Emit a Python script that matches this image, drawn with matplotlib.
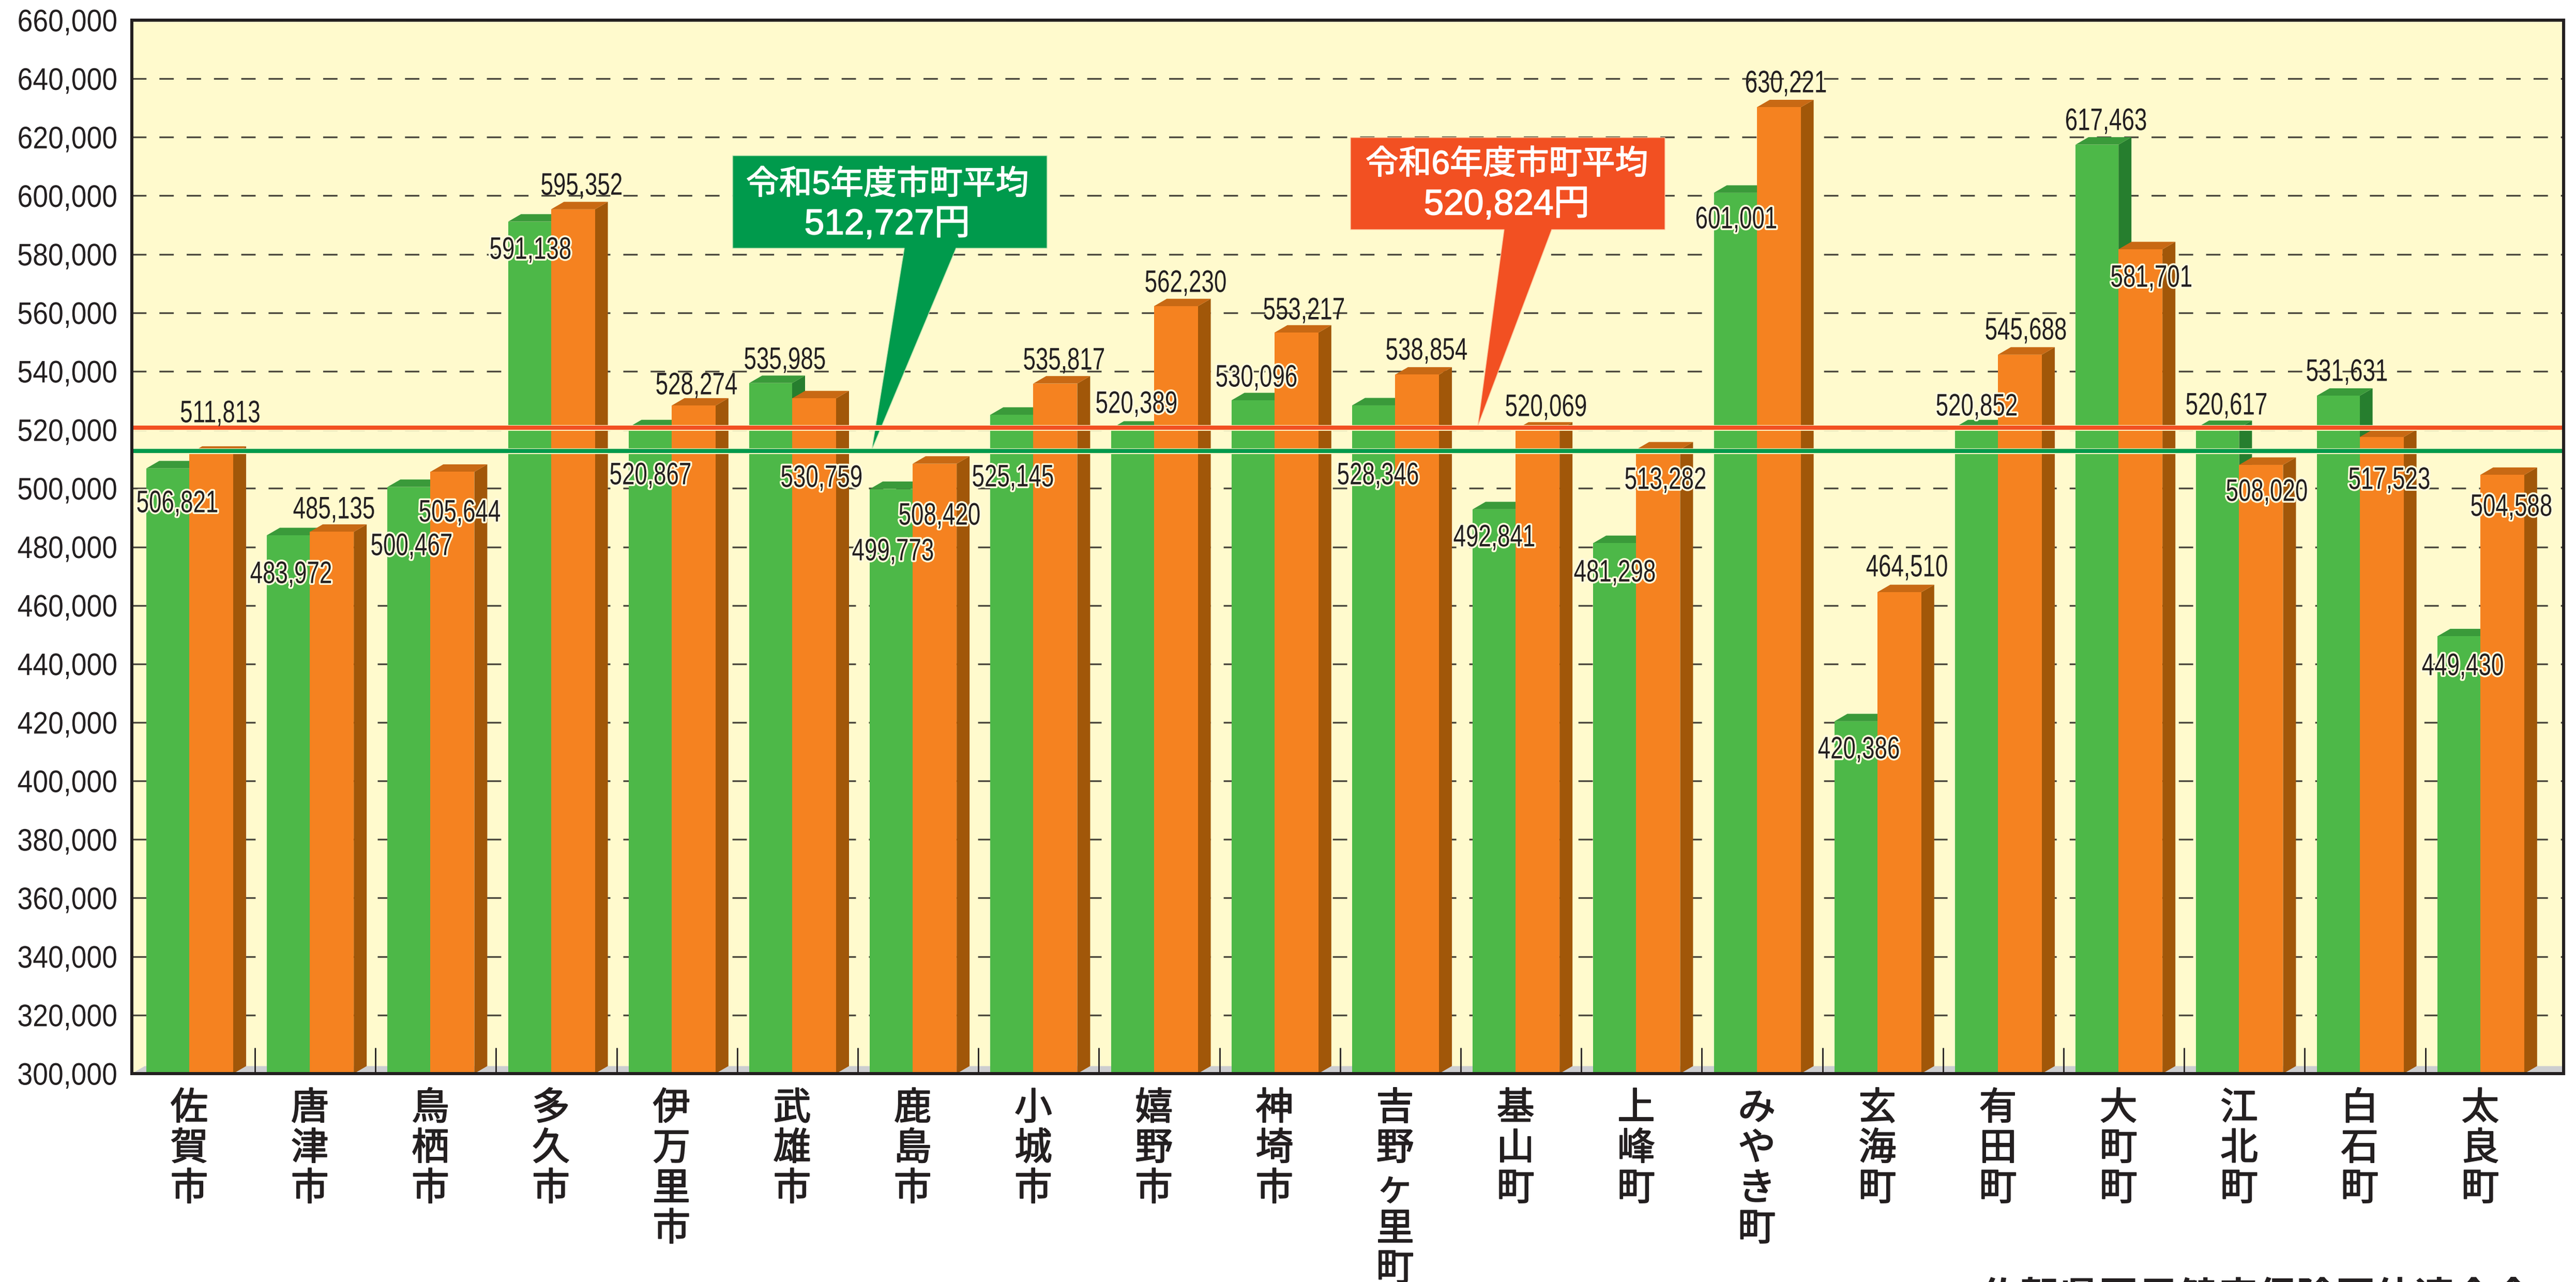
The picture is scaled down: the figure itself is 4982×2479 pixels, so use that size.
import numpy as np
import matplotlib
matplotlib.use("Agg")
import matplotlib.pyplot as plt
from matplotlib.patches import Polygon
from matplotlib.transforms import Affine2D
import matplotlib.patheffects as pe

plt.rcParams["lines.scale_dashes"] = False

# ---------- data ----------
categories = ["佐賀市", "唐津市", "鳥栖市", "多久市", "伊万里市", "武雄市", "鹿島市", "小城市", "嬉野市", "神埼市",
              "吉野ヶ里町", "基山町", "上峰町", "みやき町", "玄海町", "有田町", "大町町", "江北町", "白石町", "太良町"]
values_r5 = [506821, 483972, 500467, 591138, 520867, 535985, 499773, 525145, 520389, 530096,
             528346, 492841, 481298, 601001, 420386, 520852, 617463, 520617, 531631, 449430]
values_r6 = [511813, 485135, 505644, 595352, 528274, 530759, 508420, 535817, 562230, 553217,
             538854, 520069, 513282, 630221, 464510, 545688, 581701, 508020, 517523, 504588]
avg_r5 = 512727
avg_r6 = 520824
avg_r5_title = "令和5年度市町平均"
avg_r6_title = "令和6年度市町平均"
source_text = "佐賀県国民健康保険団体連合会"
y_ticks = list(range(300000, 660001, 20000))

# ---------- layout (pixels of the 4982x2479 canvas) ----------
W, H = 4982, 2479
L, R, T, B = 255, 4958, 39, 2076
PERIOD = 233.2
C0 = 366          # green/orange seam of the first group
G_W, O_W = 83, 85
DX, DY = 25, 14.5
TICK_RIGHT = 227

label_xy_r5 = [(343, 969), (563, 1106), (796, 1052), (1026, 479), (1258, 915), (1518, 692), (1727, 1062),
               (1959, 919), (2198, 777), (2430, 726), (2665, 915), (2890, 1035), (3123, 1103), (3358, 420),
               (3595, 1445), (3823, 782), (4073, 230), (4306, 780), (4539, 715), (4763, 1284)]
label_xy_r6 = [(426, 795), (646, 981), (889, 987), (1125, 355), (1347, 741), (1589, 920), (1817, 993),
               (2058, 693), (2293, 543), (2522, 596), (2759, 674), (2990, 783), (3221, 924), (3454, 157),
               (3688, 1093), (3918, 635), (4161, 533), (4384, 947), (4621, 924), (4857, 976)]
halo_r5 = [1, 1, 1, 1, 1, 0, 1, 1, 1, 1, 1, 1, 1, 1, 1, 1, 0, 0, 0, 1]
halo_r6 = [0, 0, 1, 0, 0, 1, 1, 0, 0, 0, 0, 0, 1, 0, 0, 0, 1, 1, 1, 1]

# ---------- colours ----------
WALL = "#FFFACD"
FLOOR = "#CDCED0"
GREEN, GREEN_TOP, GREEN_SIDE = "#4DB848", "#3A9A3A", "#267E2E"
ORANGE, ORANGE_TOP, ORANGE_SIDE = "#F58220", "#C86914", "#A15709"
LINE_G, LINE_O = "#009A4C", "#F25022"
INK = "#231F20"

SANS = ["Liberation Sans", "DejaVu Sans"]
MIXED = ["Liberation Sans", "Noto Sans CJK JP"]
CJK = ["Noto Sans CJK JP", "DejaVu Sans"]


class Condensed(pe.AbstractPathEffect):
    """Keeps the text real but narrows it about a canvas x, with an optional halo."""

    def __init__(self, cx, sx, halo=None, halo_lw=0):
        super().__init__()
        self.cx, self.sx, self.halo, self.halo_lw = cx, sx, halo, halo_lw

    def draw_path(self, renderer, gc, tpath, affine, rgbFace=None):
        aff = affine + Affine2D().translate(-self.cx, 0).scale(self.sx, 1).translate(self.cx, 0)
        if self.halo:
            g = renderer.new_gc()
            g.copy_properties(gc)
            g.set_foreground(self.halo)
            g.set_linewidth(self.halo_lw)
            g.set_joinstyle("round")
            renderer.draw_path(g, tpath, aff, matplotlib.colors.to_rgba(self.halo))
            g.restore()
        renderer.draw_path(gc, tpath, aff, rgbFace)


fig = plt.figure(figsize=(W / 100, H / 100), dpi=100, facecolor="white")
ax = fig.add_axes([L / W, 1 - B / H, (R - L) / W, (B - T) / H], facecolor=WALL)
pxT = Affine2D().scale(1 / W, -1 / H).translate(0, 1) + fig.transFigure

xlim = ((L - C0) / PERIOD, (R - C0) / PERIOD)
ax.set_xlim(*xlim)
ax.set_ylim(300000, 660000)
yen_per_px = 360000 / (B - T)
dx, dy = DX / PERIOD, DY * yen_per_px
gw, ow = G_W / PERIOD, O_W / PERIOD

x = np.arange(len(categories))

# floor
ax.add_patch(Polygon([(xlim[0], 300000), (xlim[0] + dx, 300000 + dy), (xlim[1], 300000 + dy), (xlim[1], 300000)],
                     closed=True, fc=FLOOR, ec="none", zorder=1))

# grid
ax.set_yticks(y_ticks)
ax.set_yticklabels([f"{v:,}" for v in y_ticks], family=SANS, fontsize=43.3, color=INK)
for lab in ax.get_yticklabels():
    lab.set_path_effects([Condensed(TICK_RIGHT, 0.89)])
ax.tick_params(axis="y", length=0, pad=20)
ax.set_xticks([])
ax.yaxis.grid(True, color="#4A473C", lw=2.4, dashes=(20, 18), zorder=0.5)
ax.set_axisbelow(True)

# group separators
ax.vlines(x[:-1] + 0.5446, 300000, 300000 + 50 * yen_per_px, color=INK, lw=2.0, zorder=1.5)


def box3d(x0, width, val, front, top, side, z):
    ax.bar(x0, val - 300000, width=width, bottom=300000, align="edge", color=front, lw=0, zorder=z + 0.2)
    x1 = x0 + width
    ax.add_patch(Polygon([(x1, 300000), (x1 + dx, 300000 + dy), (x1 + dx, val + dy), (x1, val)],
                         closed=True, fc=side, ec="none", zorder=z))
    ax.add_patch(Polygon([(x0, val), (x0 + dx, val + dy), (x1 + dx, val + dy), (x1, val)],
                         closed=True, fc=top, ec="none", zorder=z + 0.1))


for i in x:
    box3d(i - gw, gw, values_r5[i], GREEN, GREEN_TOP, GREEN_SIDE, 2)
    box3d(i, ow, values_r6[i], ORANGE, ORANGE_TOP, ORANGE_SIDE, 3)

# average callouts
ax.add_patch(Polygon([(1417, 301), (2025, 301), (2025, 480), (1849, 480), (1686, 870), (1749, 480), (1417, 480)],
                     closed=True, fc=LINE_G, ec="#BFE3B0", lw=1, transform=pxT, zorder=4, clip_on=False))
ax.add_patch(Polygon([(2612, 266), (3220, 266), (3220, 444), (3001, 444), (2858, 824), (2909, 444), (2612, 444)],
                     closed=True, fc=LINE_O, ec="#FBC9A0", lw=1, transform=pxT, zorder=4, clip_on=False))

# average lines
for val, col in ((avg_r6, LINE_O), (avg_r5, LINE_G)):
    ax.axhline(val, color=col, lw=5.8, zorder=5,
               path_effects=[pe.withStroke(linewidth=8, foreground="#FFF6C8")])

bold_white = [pe.withStroke(linewidth=1.2, foreground="white")]
ax.text(1716, 358, avg_r5_title, transform=pxT, ha="center", va="center", color="white",
        family=MIXED, fontsize=46, zorder=6, path_effects=bold_white)
ax.text(1716, 453, f"{avg_r5:,}円", transform=pxT, ha="center", va="baseline", color="white",
        family=MIXED, fontsize=50, zorder=6, path_effects=bold_white)
ax.text(2914, 319, avg_r6_title, transform=pxT, ha="center", va="center", color="white",
        family=MIXED, fontsize=46, zorder=6, path_effects=bold_white)
ax.text(2914, 415, f"{avg_r6:,}円", transform=pxT, ha="center", va="baseline", color="white",
        family=MIXED, fontsize=50, zorder=6, path_effects=bold_white)

# value labels
for vals, xy, halo in ((values_r5, label_xy_r5, halo_r5), (values_r6, label_xy_r6, halo_r6)):
    for v, (px, py), h in zip(vals, xy, halo):
        effect = Condensed(px, 0.73, "#FFFBDD", 5) if h else Condensed(px, 0.73)
        ax.text(px, py + 21.5, f"{v:,}", transform=pxT, ha="center", va="baseline", color=INK,
                family=SANS, fontsize=43.3, zorder=7, clip_on=False, path_effects=[effect])

# frame
for name, sp in ax.spines.items():
    sp.set_color(INK)
    sp.set_linewidth(4.3)
    sp.set_zorder(8)

# category labels stacked vertically
heavy = [pe.withStroke(linewidth=1.4, foreground=INK)]
for i, name in enumerate(categories):
    cx = C0 + i * PERIOD
    ax.text(cx, 2106, "\n".join(name), transform=pxT, ha="center", va="top", color=INK,
            family=CJK, fontsize=52.5, linespacing=1.04, clip_on=False, zorder=7, path_effects=heavy)

# source line, cropped by the canvas edge like the reference
ax.text(3830, 2472, source_text, transform=pxT, ha="left", va="top", color=INK,
        family=CJK, fontsize=55, fontweight="bold", clip_on=False, zorder=7)

fig.savefig("out.png", dpi=100, facecolor="white")
